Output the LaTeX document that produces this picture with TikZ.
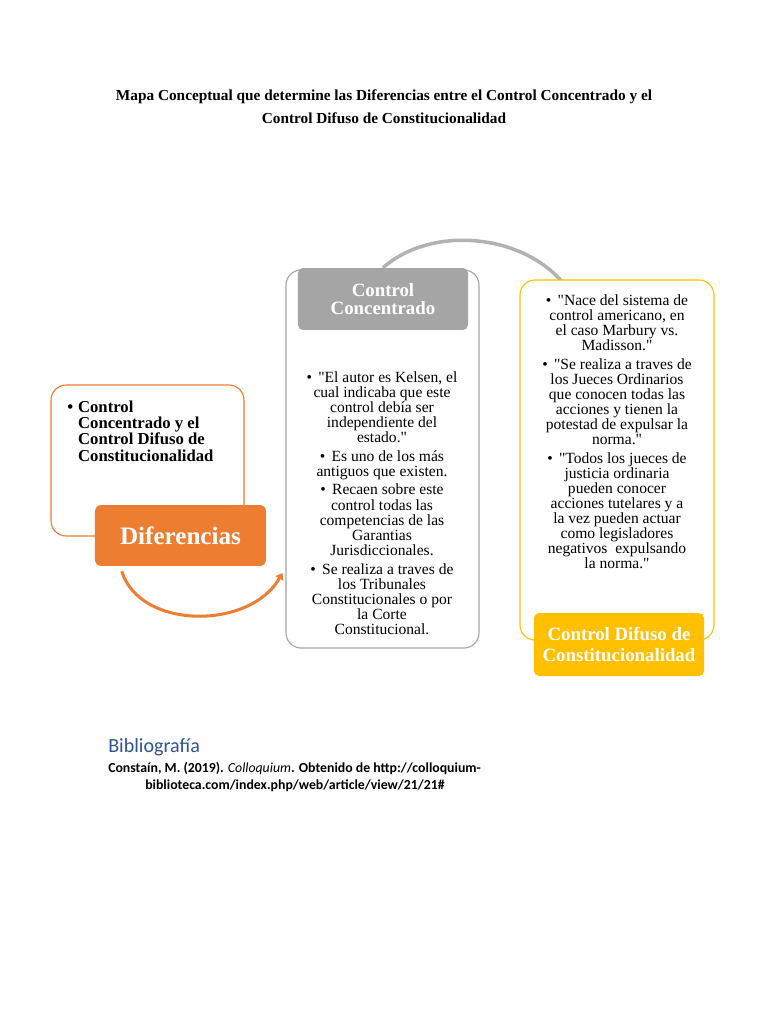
\documentclass[tikz,border=0pt]{standalone}
\usepackage{fontspec}
\setmainfont{Liberation Serif}
\newfontfamily\calibri{Carlito}
\usetikzlibrary{arrows.meta,positioning,calc,backgrounds}
\definecolor{naranja}{HTML}{ED7D31}
\definecolor{gris}{HTML}{A5A5A5}
\definecolor{amarillo}{HTML}{FFC000}
\definecolor{azulbib}{HTML}{2F5496}
\newcommand{\bul}{\textbullet\hspace{5pt}}
\newcommand{\qd}{\textquotedbl}

\begin{document}
\begin{tikzpicture}[
  x=0.797pt, y=-0.797pt,
  marco/.style={rectangle, draw, fill=white, rounded corners=12pt, line width=0.9pt},
  cabeza/.style={rectangle, rounded corners=4pt, text=white, font=\fontsize{15}{15}\selectfont\bfseries, align=center, inner sep=0pt},
  texto/.style={font=\fontsize{12.4}{12}\selectfont, align=center, inner sep=0pt},
  arr/.style={line width=2.4pt, naranja, -{Triangle[length=5pt,width=7pt]}},
  arco/.style={line width=2.8pt, gris!85},
  biblio/.style={font=\calibri\bfseries\fontsize{11}{13}\selectfont, anchor=base west, inner sep=0pt},
]
\useasboundingbox (0,0) rectangle (768,1024);
\node[font=\bfseries\fontsize{12.2}{19}\selectfont, align=center, anchor=north, inner sep=0pt] (titulo) at (384,89) {Mapa Conceptual que determine las Diferencias entre el Control Concentrado y el\\Control Difuso de Constitucionalidad};
% izquierda
\node[marco, draw=naranja, minimum width=153.8pt, minimum height=120.3pt] (izq) at (147.5,460.5) {};
\node[texto, font=\bfseries\fontsize{13.3}{12.8}\selectfont, align=left, anchor=north west] (lista) at (67,401) {\textbullet\hspace{4pt}Control\\\phantom{\textbullet\hspace{4pt}}Concentrado y el\\\phantom{\textbullet\hspace{4pt}}Control Difuso de\\\phantom{\textbullet\hspace{4pt}}Constitucionalidad};
\node[cabeza, fill=naranja, rounded corners=5pt, minimum width=136.3pt, minimum height=48.6pt, font=\bfseries\fontsize{20}{20}\selectfont] (dif) at (180.5,535.5) {Diferencias};
% centro
\node[marco, draw=gris, minimum width=153.8pt, minimum height=301.3pt] (conc) at (382.5,459) {};
\node[cabeza, fill=gris, minimum width=135.5pt, minimum height=49.4pt] (hconc) at (383,299) {Control\\Concentrado};
\node[texto, anchor=north] (tconc) at (382,371) {\bul\qd El autor es Kelsen, el\\cual indicaba que este\\control debía ser\\independiente del\\estado.\qd\\[3pt]
\bul Es uno de los más\\antiguos que existen.\\[3pt]
\bul Recaen sobre este\\control todas las\\competencias de las\\Garantias\\Jurisdiccionales.\\[3pt]
\bul Se realiza a traves de\\los Tribunales\\Constitucionales o por\\la Corte\\Constitucional.};
% derecha
\node[marco, draw=amarillo, minimum width=154.6pt, minimum height=286.9pt] (difu) at (617,460) {};
\node[texto, anchor=north] (tdifu) at (617,294) {\bul\qd Nace del sistema de\\control americano, en\\el caso Marbury vs.\\Madisson.\qd\\[3pt]
\bul\qd Se realiza a traves de\\los Jueces Ordinarios\\que conocen todas las\\acciones y tienen la\\potestad de expulsar la\\norma.\qd\\[3pt]
\bul\qd Todos los jueces de\\justicia ordinaria\\pueden conocer\\acciones tutelares y a\\la vez pueden actuar\\como legisladores\\negativos\ \ expulsando\\la norma.\qd};
\node[cabeza, fill=amarillo, minimum width=135.5pt, minimum height=50.2pt, font=\fontsize{15}{16}\selectfont\bfseries] (hdifu) at (619,644.5) {Control Difuso de\\Constitucionalidad};
% flechas
\begin{scope}[on background layer]
\draw[arco] (hconc.north) .. controls (435,222) and (535,235) .. ($(difu.north west)+(52,15)$);
\end{scope}
\draw[arr] ($(dif.south west)+(27,5)$) .. controls (140,630) and (250,630) .. ($(conc.west)+(-3,114)$);
% bibliografia
\node[font=\calibri\fontsize{16}{16}\selectfont, text=azulbib, anchor=base west, inner sep=0pt] (bib) at (108,752) {Bibliografía};
\node[biblio] (ref1) at (108,772) {Constaín, M. (2019). {\mdseries\itshape Colloquium}. Obtenido de http://colloquium-};
\node[biblio] (ref2) at (145,789) {biblioteca.com/index.php/web/article/view/21/21\#};
\end{tikzpicture}
\end{document}
